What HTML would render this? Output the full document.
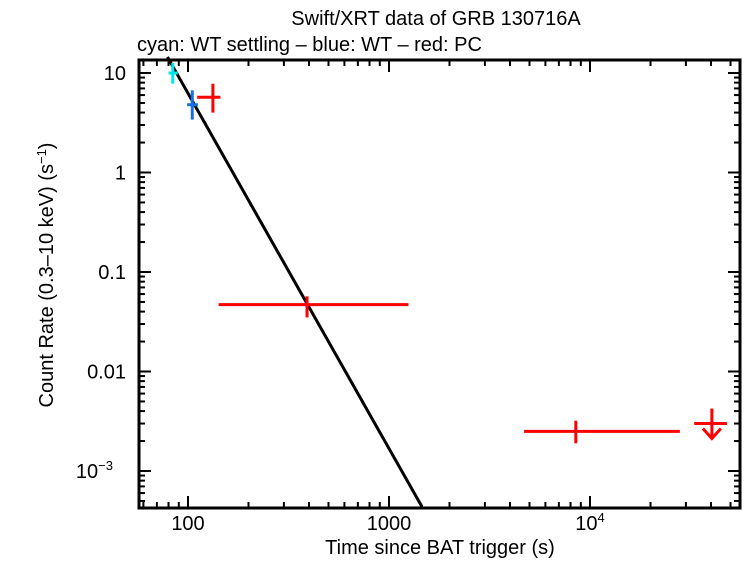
<!DOCTYPE html>
<html><head><meta charset="utf-8"><style>
body{margin:0;background:#fff;width:746px;height:558px;overflow:hidden}
svg text{font-family:"Liberation Sans",sans-serif;fill:#000}
</style></head><body>
<svg id="chart" width="746" height="558" xmlns="http://www.w3.org/2000/svg">
<text x="436" y="25" font-size="20" text-anchor="middle">Swift/XRT data of GRB 130716A</text>
<text x="137" y="51" font-size="20">cyan: WT settling – blue: WT – red: PC</text>
<rect x="139" y="60" width="601" height="448" fill="none" stroke="#000" stroke-width="3"/>
<g id="ticks"></g><g id="marks"></g>
<text x="440" y="554" font-size="20" text-anchor="middle">Time since BAT trigger (s)</text>
<text transform="translate(53,275) rotate(-90)" font-size="20" text-anchor="middle">Count Rate (0.3–10 keV) (s<tspan dy="-7" font-size="13">−1</tspan><tspan dy="7">)</tspan></text>
</svg>
<script>
const xTickVals=[100,1000,10000];
const xTickLabels=["100","1000","10^4"];
const yTickVals=[10,1,0.1,0.01,0.001];
const yTickLabels=["10","1","0.1","0.01","10^-3"];
const seriesColor=["#00e5e5","#1a6fe0","red","red","red"];
const tCenter=[84,105,133,391,8500];
const tLow=[80,99,111,142,4700];
const tHigh=[89,112,145,1250,28000];
const rate=[10,4.8,5.7,0.047,0.0025];
const rateLow=[7.8,3.4,4.0,0.035,0.0019];
const rateHigh=[12.6,6.7,7.8,0.057,0.0032];
const ulTime=[40400];const ulLow=[33000];const ulHigh=[48000];const ulRate=[0.003];
const modelT=[79,1460];const modelAnchorT=79;const modelAnchorR=14.5;const modelSlope=-3.57;
const X=t=>188+201*(Math.log10(t)-2);
const Y=v=>172.5-99.5*Math.log10(v);
const NS="http://www.w3.org/2000/svg";
function mk(tag,attrs,parent){const e=document.createElementNS(NS,tag);for(const k in attrs)e.setAttribute(k,attrs[k]);parent.appendChild(e);return e;}
const tk=document.getElementById('ticks'),mg=document.getElementById('marks');
for(let d=1;d<=4;d++)for(let m=1;m<10;m++){const t=m*Math.pow(10,d);const x=X(t);if(x<140||x>739)continue;const L=m==1?12:6;
 const a=mk('line',{x1:x,x2:x,y1:508,y2:508-L,stroke:'#000','stroke-width':2},tk);
 const b=mk('line',{x1:x,x2:x,y1:60,y2:60+L,stroke:'#000','stroke-width':2},tk);}
for(let d=-4;d<=1;d++)for(let m=1;m<10;m++){const v=m*Math.pow(10,d);const y=Y(v);if(y<61||y>507)continue;const L=m==1?12:6;
 const a=mk('line',{x1:139,x2:139+L,y1:y,y2:y,stroke:'#000','stroke-width':2},tk);
 const b=mk('line',{x1:740,x2:740-L,y1:y,y2:y,stroke:'#000','stroke-width':2},tk);}
xTickVals.forEach((v,i)=>{const s=xTickLabels[i];const t=mk('text',{x:X(v),y:530,'font-size':20,'text-anchor':'middle'},tk);
 if(s.includes('^')){const p=s.split('^');t.textContent=p[0];const sp=mk('tspan',{dy:-8,'font-size':13},t);sp.textContent=p[1];}else t.textContent=s;
 });
yTickVals.forEach((v,i)=>{const s=yTickLabels[i];const t=mk('text',{x:126,y:Y(v)+7,'font-size':20,'text-anchor':'end'},tk);
 if(s.includes('^')){const p=s.split('^');t.setAttribute('x',113);t.textContent=p[0];const sp=mk('tspan',{dy:-8,'font-size':13},t);sp.textContent=p[1].replace('-','−');}else t.textContent=s;
 });
const mr=t=>modelAnchorR*Math.pow(t/modelAnchorT,modelSlope);
const ml=mk('line',{x1:X(modelT[0]),y1:Y(mr(modelT[0])),x2:X(modelT[1]),y2:Y(mr(modelT[1])),stroke:'#000','stroke-width':3},mg);

tCenter.forEach((t,i)=>{const g=mk('g',{stroke:seriesColor[i],'stroke-width':3},mg);
 
 mk('line',{x1:X(tLow[i]),x2:X(tHigh[i]),y1:Y(rate[i]),y2:Y(rate[i])},g);
 mk('line',{x1:X(t),x2:X(t),y1:Y(rateLow[i]),y2:Y(rateHigh[i])},g);});
ulTime.forEach((t,i)=>{const g=mk('g',{stroke:'red','stroke-width':3,fill:'none'},mg);
 
 const y=Y(ulRate[i]),x=X(t);
 mk('line',{x1:X(ulLow[i]),x2:X(ulHigh[i]),y1:y,y2:y},g);
 mk('line',{x1:x,x2:x,y1:y-15,y2:y+15},g);
 mk('polyline',{points:`${x-9},${y+5} ${x},${y+15} ${x+9},${y+5}`},g);});
</script>
</body></html>
